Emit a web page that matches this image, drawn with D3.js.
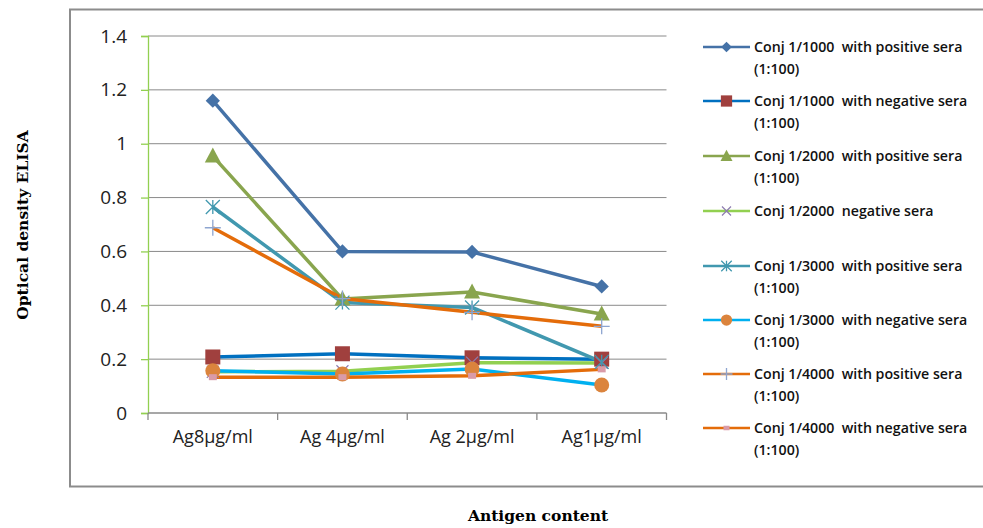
<!DOCTYPE html>
<html><head><meta charset="utf-8">
<script src="https://cdn.jsdelivr.net/npm/d3@7"></script>
<style>body{margin:0;background:#fff;} svg{display:block;}</style>
</head><body>
<svg id="c" width="983" height="528"></svg>
<script>
const categories = ["Ag8µg/ml", "Ag 4µg/ml", "Ag 2µg/ml", "Ag1µg/ml"];
const yTicks = [0, 0.2, 0.4, 0.6, 0.8, 1, 1.2, 1.4];
const seriesNames = [
  ["Conj 1/1000  with positive sera", "(1:100)"],
  ["Conj 1/1000  with negative sera", "(1:100)"],
  ["Conj 1/2000  with positive sera", "(1:100)"],
  ["Conj 1/2000  negative sera"],
  ["Conj 1/3000  with positive sera", "(1:100)"],
  ["Conj 1/3000  with negative sera", "(1:100)"],
  ["Conj 1/4000  with positive sera", "(1:100)"],
  ["Conj 1/4000  with negative sera", "(1:100)"]
];
const s1000pos = [1.16, 0.60, 0.598, 0.47];
const s1000neg = [0.208, 0.22, 0.205, 0.20];
const s2000pos = [0.954, 0.423, 0.449, 0.368];
const s2000neg = [0.153, 0.155, 0.187, 0.186];
const s3000pos = [0.765, 0.41, 0.392, 0.19];
const s3000neg = [0.157, 0.145, 0.163, 0.104];
const s4000pos = [0.688, 0.425, 0.374, 0.322];
const s4000neg = [0.133, 0.133, 0.138, 0.162];
const seriesValues = [s1000pos, s1000neg, s2000pos, s2000neg, s3000pos, s3000neg, s4000pos, s4000neg];
const lineColors = ["#4572A7", "#0070C0", "#89A54E", "#92D050", "#4198AF", "#00B0F0", "#E46C0A", "#E46C0A"];
const markerTypes = ["diamond", "square", "triangle", "x", "star", "circle", "plus", "smallsq"];
const markerColors = ["#4572A7", "#A0403E", "#89A54E", "#8E7CB0", "#4198AF", "#DB843D", "#8EA5D0", "#D99BA8"];

const svg = d3.select("#c");
const L = 148, R = 666.5, T = 36, B = 413;

// outer frame
svg.append("rect").attr("x", 70).attr("y", 9.5).attr("width", 940).attr("height", 477)
  .attr("fill", "none").attr("stroke", "#8c8c8c").attr("stroke-width", 2);

const x = d3.scaleBand().domain(categories).range([L, R]);
const y = d3.scaleLinear().domain([0, 1.4]).range([B, T]);

// gridlines
svg.append("g").selectAll("line").data(yTicks.filter(d => d > 0)).join("line")
  .attr("x1", L).attr("x2", R).attr("y1", d => y(d)).attr("y2", d => y(d))
  .attr("stroke", "#8a8a8a").attr("stroke-width", 1);

// y axis
const yAx = svg.append("g").attr("transform", `translate(${L},0)`)
  .call(d3.axisLeft(y).tickValues(yTicks).tickSize(7).tickPadding(14).tickFormat(d => String(d)));
yAx.select(".domain").attr("stroke", "#92D050").attr("stroke-width", 1.3);
yAx.selectAll(".tick line").attr("stroke", "#92D050").attr("stroke-width", 1.3);
yAx.selectAll("text").attr("font-family", "Open Sans, sans-serif").attr("font-size", 19).attr("fill", "#222");

// x axis
const xAx = svg.append("g").attr("transform", `translate(0,${B})`)
  .call(d3.axisBottom(x).tickSize(0).tickPadding(17));
xAx.select(".domain").remove();
svg.append("line").attr("x1", L).attr("x2", R).attr("y1", B).attr("y2", B).attr("stroke", "#8a8a8a").attr("stroke-width", 1.3);
const bounds = categories.map(c => x(c)).concat([R]);
svg.append("g").selectAll("line").data(bounds).join("line")
  .attr("x1", d => d).attr("x2", d => d).attr("y1", B).attr("y2", B + 7)
  .attr("stroke", "#8a8a8a").attr("stroke-width", 1.3);
xAx.selectAll("text").attr("font-family", "Open Sans, sans-serif").attr("font-size", 18).attr("fill", "#222");

const cx = c => x(c) + x.bandwidth() / 2;

function drawMarker(g, type, col, px, py, scale) {
  const s = scale || 1;
  if (type === "diamond") {
    g.append("path").attr("d", d3.symbol(d3.symbolDiamond2, 130 * s * s)()).attr("transform", `translate(${px},${py})`).attr("fill", col);
  } else if (type === "square") {
    g.append("rect").attr("x", px - 7.5 * s).attr("y", py - 7.5 * s).attr("width", 15 * s).attr("height", 15 * s).attr("fill", col);
  } else if (type === "triangle") {
    g.append("path").attr("d", `M${px},${py - 8.5 * s}L${px + 8 * s},${py + 6.5 * s}L${px - 8 * s},${py + 6.5 * s}Z`).attr("fill", col);
  } else if (type === "x") {
    const r = 6 * s;
    g.append("path").attr("d", `M${px - r},${py - r}L${px + r},${py + r}M${px - r},${py + r}L${px + r},${py - r}`).attr("stroke", col).attr("stroke-width", 1.2).attr("fill", "none");
  } else if (type === "star") {
    const r = 7 * s;
    g.append("path").attr("d", `M${px - r},${py - r}L${px + r},${py + r}M${px - r},${py + r}L${px + r},${py - r}M${px},${py - r}L${px},${py + r}`).attr("stroke", col).attr("stroke-width", 1.3).attr("fill", "none");
  } else if (type === "circle") {
    g.append("circle").attr("cx", px).attr("cy", py).attr("r", 7.5 * s).attr("fill", col);
  } else if (type === "plus") {
    const r = 8 * s;
    g.append("path").attr("d", `M${px - r},${py}L${px + r},${py}M${px},${py - r}L${px},${py + r}`).attr("stroke", col).attr("stroke-width", 1.3).attr("fill", "none");
  } else if (type === "smallsq") {
    g.append("rect").attr("x", px - 4 * s).attr("y", py - 3 * s).attr("width", 8 * s).attr("height", 6 * s).attr("fill", col);
  }
}

const line = d3.line().x((d, i) => cx(categories[i])).y(d => y(d));
const plot = svg.append("g");
seriesValues.forEach((vals, si) => {
  plot.append("path").datum(vals).attr("d", line).attr("fill", "none")
    .attr("stroke", lineColors[si]).attr("stroke-width", 3.5).attr("stroke-linejoin", "round");
});
seriesValues.forEach((vals, si) => {
  vals.forEach((v, i) => drawMarker(plot, markerTypes[si], markerColors[si], cx(categories[i]), y(v)));
});

// legend
const legY = [47, 101, 156, 211, 266, 320, 374, 428];
const leg = svg.append("g");
seriesNames.forEach((lines, si) => {
  const ly = legY[si];
  leg.append("line").attr("x1", 703).attr("x2", 750).attr("y1", ly).attr("y2", ly)
    .attr("stroke", lineColors[si]).attr("stroke-width", 2.5);
  drawMarker(leg, markerTypes[si], markerColors[si], 726.5, ly, 0.75);
  lines.forEach((t, k) => {
    leg.append("text").attr("x", 754).attr("y", ly + 5 + k * 22).text(t)
      .attr("font-family", "Open Sans, sans-serif").attr("font-weight", 600).attr("font-size", 14.2)
      .attr("fill", "#111").attr("xml:space", "preserve").style("white-space", "pre");
  });
});

// axis titles
svg.append("text").attr("x", 538).attr("y", 521).attr("text-anchor", "middle")
  .attr("font-family", "DejaVu Serif, serif").attr("font-weight", "bold").attr("font-size", 15.5).attr("fill", "#000")
  .text("Antigen content");
svg.append("text").attr("transform", "translate(28,225) rotate(-90)").attr("text-anchor", "middle")
  .attr("font-family", "DejaVu Serif, serif").attr("font-weight", "bold").attr("font-size", 15.5).attr("fill", "#000")
  .text("Optical density ELISA");
</script>
</body></html>
